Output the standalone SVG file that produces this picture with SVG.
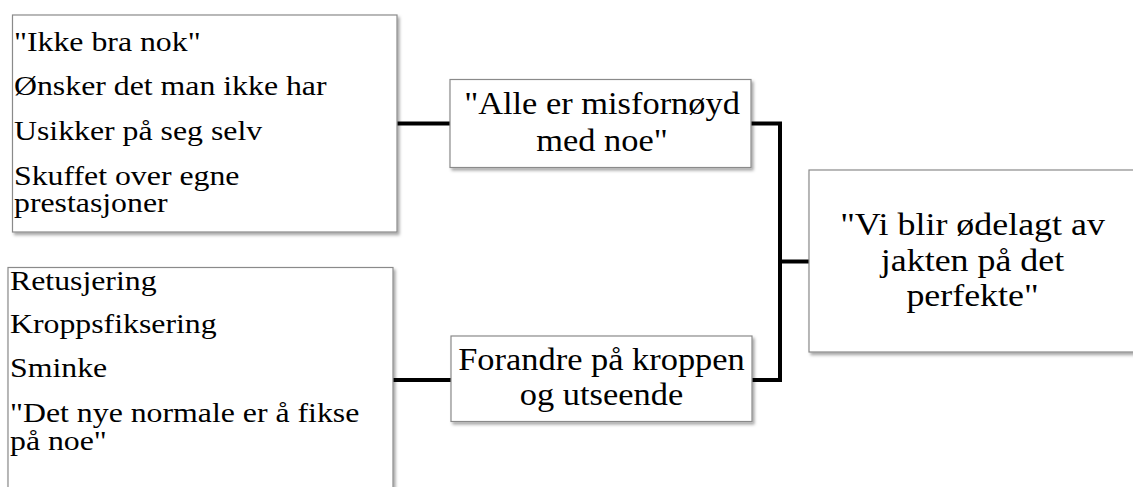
<svg xmlns="http://www.w3.org/2000/svg" width="1133" height="487" viewBox="0 0 1133 487">
  <defs>
    <filter id="sh" x="-5%" y="-5%" width="115%" height="120%">
      <feDropShadow dx="2" dy="2.5" stdDeviation="1.5" flood-color="#000" flood-opacity="0.35"/>
    </filter>
  </defs>
  <style>
    .box { fill: #ffffff; stroke: #8a8a8a; stroke-width: 1.2; filter: url(#sh); }
    .t { font-family: "Liberation Serif", "Times New Roman", serif; fill: #000; }
    .conn { fill: none; stroke: #000; stroke-width: 4; stroke-linejoin: miter; }
  </style>
  <rect width="1133" height="487" fill="#ffffff"/>

  <g id="connectors">
    <line class="conn" x1="397" y1="123.5" x2="450" y2="123.5"/>
    <line class="conn" x1="393" y1="380" x2="451" y2="380"/>
    <polyline class="conn" points="751,123.5 780,123.5 780,380 752,380"/>
    <line class="conn" x1="780" y1="261.5" x2="809" y2="261.5"/>
  </g>

  <g id="node-top-left">
    <rect class="box" x="12.5" y="15" width="384.5" height="217"/>
    <g transform="translate(14 0) scale(1.2 1)" class="t" font-size="26.5">
      <text x="0" y="51">"Ikke bra nok"</text>
      <text x="0" y="95">Ønsker det man ikke har</text>
      <text x="0" y="140">Usikker på seg selv</text>
      <text x="0" y="185">Skuffet over egne</text>
      <text x="0" y="212">prestasjoner</text>
    </g>
  </g>

  <g id="node-bottom-left">
    <rect class="box" x="8" y="267.5" width="385" height="240"/>
    <g transform="translate(10 0) scale(1.2 1)" class="t" font-size="26.5">
      <text x="0" y="290">Retusjering</text>
      <text x="0" y="333">Kroppsfiksering</text>
      <text x="0" y="377">Sminke</text>
      <text x="0" y="422">"Det nye normale er å fikse</text>
      <text x="0" y="450">på noe"</text>
    </g>
  </g>

  <g id="node-mid-top">
    <rect class="box" x="450" y="79.5" width="301" height="88"/>
    <g transform="translate(602 0) scale(1.11 1)" class="t" font-size="31" text-anchor="middle">
      <text x="0" y="114.5">"Alle er misfornøyd</text>
      <text x="0" y="151">med noe"</text>
    </g>
  </g>

  <g id="node-mid-bottom">
    <rect class="box" x="451" y="336" width="301" height="85.5"/>
    <g transform="translate(601.5 0) scale(1.11 1)" class="t" font-size="31" text-anchor="middle">
      <text x="0" y="370">Forandre på kroppen</text>
      <text x="0" y="405">og utseende</text>
    </g>
  </g>

  <g id="node-right">
    <rect class="box" x="809" y="170" width="340" height="182"/>
    <g transform="translate(972.5 0) scale(1.14 1)" class="t" font-size="31.5" text-anchor="middle">
      <text x="0" y="235">"Vi blir ødelagt av</text>
      <text x="0" y="271">jakten på det</text>
      <text x="0" y="306.5">perfekte"</text>
    </g>
  </g>
</svg>
